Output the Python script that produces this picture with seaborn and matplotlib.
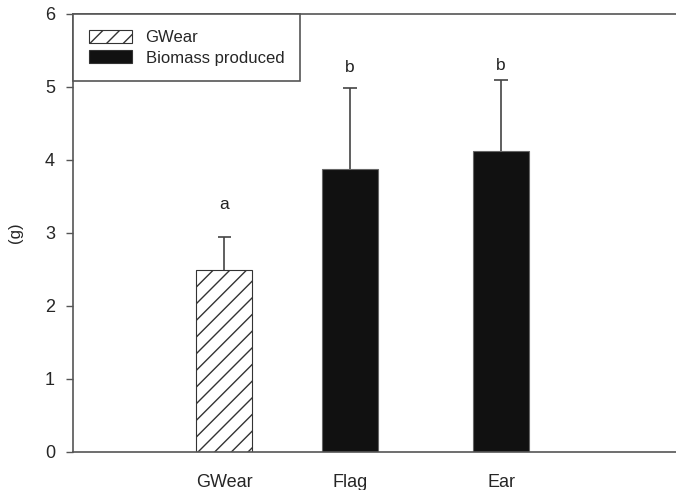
import matplotlib
matplotlib.use('Agg')
import matplotlib.pyplot as plt
from matplotlib.patches import Patch
import pandas as pd
import seaborn as sns

# values
groups = ['GWear', 'Flag', 'Ear']
means = [2.49, 3.88, 4.12]
errors = [0.46, 1.11, 0.98]
letters = ['a', 'b', 'b']
letter_y = [3.29, 5.16, 5.19]

# bar centres on the x axis (the reference spacing is not even)
x_pos = [1.0, 2.0, 3.2]

sns.set_style('ticks')
plt.rcParams['font.family'] = ['Liberation Sans', 'DejaVu Sans']
plt.rcParams['hatch.linewidth'] = 1.0

df = pd.DataFrame({'pos': x_pos, 'mean': means, 'group': groups})

fig = plt.figure(figsize=(6.76, 4.90), dpi=100)
ax = fig.add_axes([0.108, 0.0776, 0.892, 0.894])

spine_col = '#555555'

sns.barplot(data=df, x='pos', y='mean', native_scale=True, width=0.44,
            color='#111111', edgecolor='#666666', linewidth=0.8,
            errorbar=None, ax=ax)

# first bar is hatched / white
first = ax.patches[0]
first.set_facecolor('white')
first.set_edgecolor('#333333')
first.set_hatch('//')

# upper error bars only
tops = [m + e for m, e in zip(means, errors)]
cap = 0.052
ax.vlines(x_pos, means, tops, color='#444444', linewidth=1.2)
ax.hlines(tops, [p - cap for p in x_pos], [p + cap for p in x_pos],
          color='#444444', linewidth=1.2)

for xp, t, ly in zip(x_pos, letters, letter_y):
    ax.text(xp, ly, t, ha='center', va='bottom', fontsize=12.5, color='#222222')

ax.set_xlim(-0.2, 4.59)
ax.set_ylim(0, 6)
ax.set_yticks(range(0, 7))
ax.set_xticks(x_pos)
ax.set_xticklabels(groups)
ax.tick_params(axis='x', length=0, pad=16, labelsize=13)
ax.tick_params(axis='y', length=5, width=1, color=spine_col, pad=8, labelsize=13)
ax.set_xlabel('')
ax.set_ylabel('(g)', fontsize=12, labelpad=16)

for s in ['left', 'bottom', 'top']:
    ax.spines[s].set_color(spine_col)
    ax.spines[s].set_linewidth(1.2)
ax.spines['right'].set_visible(False)

handles = [Patch(facecolor='white', edgecolor='#333333', hatch='//', linewidth=0.8),
           Patch(facecolor='#111111', edgecolor='#333333', linewidth=0.8)]
leg = ax.legend(handles, ['GWear', 'Biomass produced'], loc='upper left',
                bbox_to_anchor=(0, 1), borderaxespad=0, fontsize=12,
                handlelength=2.6, handleheight=0.85, handletextpad=0.8,
                fancybox=False, framealpha=1, edgecolor=spine_col,
                borderpad=0.95, labelspacing=0.3)
leg.get_frame().set_linewidth(1.2)

fig.savefig('out.png', dpi=100)
